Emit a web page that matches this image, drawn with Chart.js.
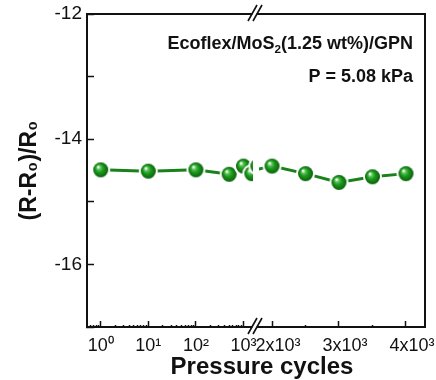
<!DOCTYPE html>
<html>
<head>
<meta charset="utf-8">
<script src="https://cdn.jsdelivr.net/npm/chart.js@4.4.0/dist/chart.umd.min.js"></script>
<style>
  html, body { margin: 0; padding: 0; background: #fff; }
</style>
</head>
<body>
<canvas id="cycleChart" width="436" height="380"></canvas>
<script>
// Measured response at each number of pressure cycles
const cycles = [1, 10, 100, 500, 1000, 1500, 2000, 2500, 3000, 3500, 4000];
const response = [-14.49, -14.51, -14.49, -14.56, -14.43, -14.55, -14.43, -14.55, -14.69, -14.60, -14.55];

// Broken x axis: log part on the left, linear part on the right
const logMajor = [1, 10, 100, 1000];
const logLabels = ['10⁰', '10¹', '10²', '10³'];
const linTicks = [2000, 2500, 3000, 3500, 4000];
const linMajor = [2000, 3000, 4000];
const linLabels = ['2x10³', '3x10³', '4x10³'];

const yTicks = [-17, -16, -15, -14, -13, -12];
const yLabels = ['', '-16', '', '-14', '', '-12'];

const FONT = '"Liberation Sans", Arial, sans-serif';
const INK = '#111';
const LINE = '#1a801a';

// minor log ticks: 2..9 in each decade, plus 0.6..0.9 before 10^0
const logTicks = [0.6, 0.7, 0.8, 0.9];
logMajor.forEach(d => {
    logTicks.push(d);
    if (d < 1000) for (let k = 2; k <= 9; k++) logTicks.push(d * k);
});

// shaded green ball used as marker
function makeBall(r) {
    const size = Math.ceil((r + 3) * 2);
    const c = document.createElement('canvas');
    c.width = c.height = size;
    const g = c.getContext('2d');
    const m = size / 2;
    g.fillStyle = '#fff';
    g.beginPath(); g.arc(m, m, r + 2, 0, Math.PI * 2); g.fill();
    const grad = g.createRadialGradient(m - r * 0.35, m - r * 0.4, r * 0.08, m, m, r);
    grad.addColorStop(0, '#f2fff2');
    grad.addColorStop(0.22, '#5cc25c');
    grad.addColorStop(0.5, '#1c9a1c');
    grad.addColorStop(1, '#0a600a');
    g.fillStyle = grad;
    g.beginPath(); g.arc(m, m, r, 0, Math.PI * 2); g.fill();
    return c;
}
const ball = makeBall(7.5);

const points = cycles.map((c, i) => ({ x: c, y: response[i] }));

function drawRich(ctx, parts, xRight, yBase, size) {
    const widths = parts.map(p => {
        ctx.font = 'bold ' + (p.sub ? size * 0.65 : size) + 'px ' + FONT;
        return ctx.measureText(p.t).width;
    });
    let x = xRight - widths.reduce((a, b) => a + b, 0);
    parts.forEach((p, i) => {
        ctx.font = 'bold ' + (p.sub ? size * 0.65 : size) + 'px ' + FONT;
        ctx.fillText(p.t, x, p.sub ? yBase + size * 0.2 : yBase);
        x += widths[i];
    });
}

// keep tick label overflow from shrinking the plot area
function noOverflow(s) {
    s.paddingTop = 0; s.paddingBottom = 0;
    s.paddingLeft = 0; s.paddingRight = 0;
}

const framePlugin = {
    id: 'frame',
    afterDraw(chart) {
        const { ctx, chartArea: a } = chart;
        const split = chart.scales.xL.right;
        ctx.save();
        ctx.strokeStyle = INK;
        ctx.lineWidth = 2;
        ctx.beginPath();
        ctx.moveTo(a.left, a.top);
        ctx.lineTo(a.right, a.top);
        ctx.lineTo(a.right, a.bottom);
        ctx.stroke();

        // axis break marks
        [a.top, a.bottom].forEach(y => {
            ctx.fillStyle = '#fff';
            ctx.beginPath();
            ctx.moveTo(split - 6, y + 6);
            ctx.lineTo(split + 0, y - 8);
            ctx.lineTo(split + 4, y - 8);
            ctx.lineTo(split - 2, y + 6);
            ctx.closePath();
            ctx.fill();
            ctx.lineWidth = 1.6;
            ctx.beginPath();
            ctx.moveTo(split - 8, y + 7); ctx.lineTo(split + 1, y - 9);
            ctx.moveTo(split - 3, y + 7); ctx.lineTo(split + 6, y - 9);
            ctx.stroke();
        });

        // annotation
        ctx.fillStyle = INK;
        ctx.textAlign = 'left';
        ctx.textBaseline = 'alphabetic';
        drawRich(ctx, [{ t: 'Ecoflex/MoS' }, { t: '2', sub: true }, { t: '(1.25 wt%)/GPN' }], 413, 49, 18);
        drawRich(ctx, [{ t: 'P = 5.08 kPa' }], 413, 82, 18);

        // x axis title across both parts
        ctx.font = 'bold 24px ' + FONT;
        ctx.textAlign = 'center';
        ctx.textBaseline = 'middle';
        ctx.fillText('Pressure cycles', (a.left + a.right) / 2 + 6, 367);
        ctx.restore();
    }
};

const tickFont = { family: FONT, size: 18 };

new Chart(document.getElementById('cycleChart'), {
    type: 'line',
    data: {
        datasets: [
            {
                data: points, xAxisID: 'xL', yAxisID: 'y',
                borderColor: LINE, borderWidth: 3,
                pointStyle: ball, pointRadius: 7.5,
                clip: { left: 0, right: -3, top: 10, bottom: 10 }
            },
            {
                data: points, xAxisID: 'xR', yAxisID: 'y',
                borderColor: LINE, borderWidth: 3,
                pointStyle: ball, pointRadius: 7.5,
                clip: { left: -3, right: 0, top: 10, bottom: 10 }
            }
        ]
    },
    options: {
        responsive: false,
        animation: false,
        layout: { padding: { left: 0, right: 11, top: 14, bottom: 0 } },
        plugins: { legend: { display: false }, tooltip: { enabled: false } },
        scales: {
            xL: {
                type: 'logarithmic',
                position: 'bottom',
                stack: 'cycles',
                stackWeight: 1,
                min: 0.515,
                max: 1832,
                afterBuildTicks: s => { s.ticks = logTicks.map(v => ({ value: v })); },
                afterFit: s => { s.height = 53; noOverflow(s); },
                border: { color: INK, width: 2 },
                grid: {
                    drawOnChartArea: false,
                    tickLength: -6,
                    tickWidth: 1.5,
                    tickColor: INK,
                    tickBorderDash: c => (c.tick && logMajor.includes(c.tick.value)) ? [] : [3, 20]
                },
                ticks: {
                    autoSkip: false, maxRotation: 0, padding: 14, color: INK, font: tickFont,
                    callback: v => { const i = logMajor.indexOf(v); return i >= 0 ? logLabels[i] : ''; }
                }
            },
            xR: {
                type: 'linear',
                position: 'bottom',
                stack: 'cycles',
                stackWeight: 1,
                min: 1761,
                max: 4284,
                afterBuildTicks: s => { s.ticks = linTicks.map(v => ({ value: v })); },
                afterFit: s => { s.height = 53; noOverflow(s); },
                border: { color: INK, width: 2 },
                grid: {
                    drawOnChartArea: false,
                    tickLength: -6,
                    tickWidth: 1.5,
                    tickColor: INK,
                    tickBorderDash: c => (c.tick && linMajor.includes(c.tick.value)) ? [] : [3, 20]
                },
                ticks: {
                    autoSkip: false, maxRotation: 0, padding: 14, labelOffset: 6, color: INK, font: tickFont,
                    callback: v => { const i = linMajor.indexOf(v); return i >= 0 ? linLabels[i] : ''; }
                }
            },
            y: {
                type: 'linear',
                position: 'left',
                min: -17,
                max: -12,
                afterBuildTicks: s => { s.ticks = yTicks.map(v => ({ value: v })); },
                afterFit: s => { s.width = 87; noOverflow(s); },
                border: { color: INK, width: 2 },
                grid: { drawOnChartArea: false, tickLength: -7, tickWidth: 1.5, tickColor: INK },
                ticks: {
                    padding: 12, color: INK, font: { family: FONT, size: 19 },
                    callback: v => yLabels[yTicks.indexOf(v)]
                },
                title: {
                    display: true,
                    text: '(R-R₀)/R₀',
                    color: INK,
                    font: { family: FONT, size: 23, weight: 'bold' },
                    padding: { top: 16, bottom: 0 }
                }
            }
        }
    },
    plugins: [framePlugin]
});
</script>
</body>
</html>
